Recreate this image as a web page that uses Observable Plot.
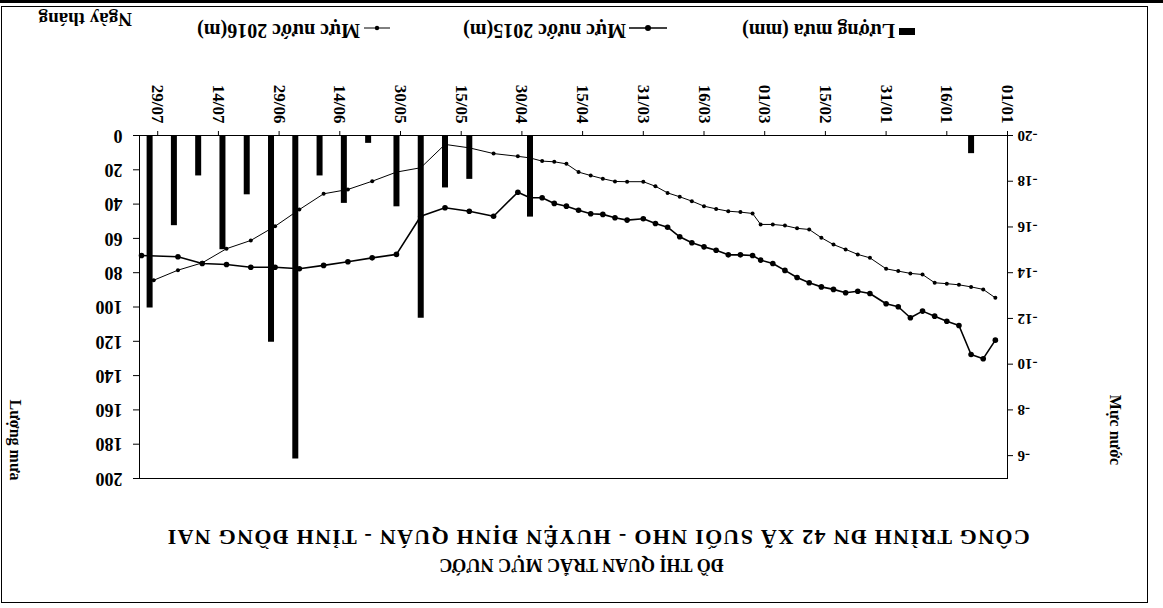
<!DOCTYPE html>
<html><head><meta charset="utf-8">
<script src="https://cdn.jsdelivr.net/npm/d3@7"></script>
<script src="https://cdn.jsdelivr.net/npm/@observablehq/plot@0.6"></script>
<style>
body{margin:0;background:#fff;}
#page{position:absolute;left:0;top:0;width:1163px;height:608px;transform:rotate(180deg);transform-origin:50% 50%;font-family:"Liberation Serif","Times New Roman",serif;font-weight:bold;color:#000;background:#fff;overflow:hidden}
.abs{position:absolute;white-space:nowrap;line-height:1}
#page svg{position:absolute;left:0;top:0}
</style></head><body><div id="page"></div>
<script>
// ---- data ----
const dateLabels = ["04/01","07/01","10/01","13/01","16/01","19/01","22/01","25/01","28/01","31/01",
  "04/02","07/02","10/02","13/02","16/02","19/02","22/02","25/02","28/02","02/03",
  "04/03","07/03","10/03","13/03","16/03","19/03","22/03","25/03","28/03","31/03",
  "04/04","07/04","10/04","13/04","16/04","19/04","22/04","25/04","28/04","01/05",
  "07/05","13/05","19/05","25/05","31/05","06/06","12/06","18/06","24/06","30/06",
  "06/07","12/07","18/07","24/07","30/07","02/08"];
const level2016 = [-12.90,-13.27,-13.38,-13.47,-13.52,-13.56,-13.92,-13.97,-14.07,-14.17,
  -14.65,-14.80,-15.02,-15.23,-15.53,-15.89,-15.94,-16.06,-16.11,-16.11,
  -16.59,-16.65,-16.69,-16.79,-16.91,-17.13,-17.32,-17.49,-17.78,-17.98,
  -17.98,-17.99,-18.11,-18.25,-18.40,-18.76,-18.85,-18.88,-19.02,-19.09,
  -19.21,-19.46,-19.61,-18.59,-18.40,-18.00,-17.64,-17.45,-16.76,-16.03,
  -15.41,-15.05,-14.43,-14.11,-13.67,null];
const level2015 = [-11.05,-10.24,-10.42,-11.69,-11.88,-12.10,-12.32,-12.03,-12.51,-12.64,
  -13.09,-13.19,-13.12,-13.27,-13.38,-13.56,-13.79,-14.10,-14.40,-14.55,
  -14.75,-14.78,-14.78,-14.98,-15.13,-15.31,-15.57,-15.99,-16.15,-16.36,
  -16.30,-16.40,-16.55,-16.58,-16.73,-16.91,-17.03,-17.28,-17.28,-17.52,
  -16.47,-16.69,-16.84,-16.47,-14.80,-14.65,-14.48,-14.32,-14.17,-14.24,
  -14.24,-14.36,-14.40,-14.70,null,-14.75];
const rainDates = ["10/01","28/04","13/05","19/05","25/05","31/05","07/06","13/06","19/06","25/06",
  "01/07","07/07","13/07","19/07","25/07","31/07"];
const rainMm = [10,47,25,30,106,41,4,39,23,188,120,34,66,23,52,100];
const xTickLabels = ["01/01","16/01","31/01","15/02","01/03","16/03","31/03","15/04","30/04","15/05","30/05","14/06","29/06","14/07","29/07"];
const levelTicks = [-20,-18,-16,-14,-12,-10,-8,-6];
const rainTicks = [0,20,40,60,80,100,120,140,160,180,200];

// ---- helpers ----
const parse = s => { const [d,m] = s.split("/").map(Number); return new Date(Date.UTC(2016,m-1,d)); };
const rows2016 = dateLabels.map((s,i)=>({date:parse(s), v:level2016[i]})).filter(d=>d.v!=null);
const rows2015 = dateLabels.map((s,i)=>({date:parse(s), v:level2015[i]})).filter(d=>d.v!=null);
const rainRows = rainDates.map((s,i)=>({date:parse(s), mm:rainMm[i]}));
const xTicks = xTickLabels.map(parse);
const fmt = d3.utcFormat("%d/%m");

const W=1163,H=608;
const margins = {marginTop:129, marginRight:140, marginBottom:136, marginLeft:155};
const xDomain = [Date.UTC(2016,0,1), Date.UTC(2016,0,1) + 214.5*864e5];
const baseStyle = {fontFamily:"Liberation Serif, Times New Roman, serif", fontWeight:"bold", fontSize:"15px", background:"transparent", color:"#000", overflow:"visible"};

const page = document.getElementById("page");

// rain bars (right axis)
const rainPlot = Plot.plot({
  width:W, height:H, ...margins, style:baseStyle,
  x:{type:"utc", domain:xDomain, axis:null},
  y:{domain:[0,200]},
  marks:[
    Plot.ruleX(rainRows,{x:"date", y1:0, y2:"mm", stroke:"#000", strokeWidth:6}),
    Plot.axisY({anchor:"right", ticks:rainTicks, tickSize:6, tickPadding:11, tickFormat:d=>String(d), label:null, fontSize:18, fontWeight:"bold"})
  ]
});
page.appendChild(rainPlot);

// water levels (left axis)
const levelPlot = Plot.plot({
  width:W, height:H, ...margins, style:baseStyle,
  x:{type:"utc", domain:xDomain},
  y:{domain:[-20,-5]},
  marks:[
    Plot.frame({stroke:"#000", strokeWidth:1}),
    Plot.line(rows2016,{x:"date", y:"v", stroke:"#000", strokeWidth:1}),
    Plot.dot(rows2016,{x:"date", y:"v", r:2, fill:"#000", stroke:"none"}),
    Plot.line(rows2015,{x:"date", y:"v", stroke:"#000", strokeWidth:1.6}),
    Plot.dot(rows2015,{x:"date", y:"v", r:2.8, fill:"#000", stroke:"none"}),
    Plot.axisY({anchor:"left", ticks:levelTicks, tickSize:5, tickPadding:5, tickFormat:d=>String(d), label:null, fontSize:15, fontWeight:"bold"}),
    Plot.axisX({anchor:"bottom", ticks:xTicks, tickFormat:fmt, tickRotate:-90, tickSize:5, tickPadding:7, label:null, fontSize:17, fontWeight:"bold"})
  ]
});
page.appendChild(levelPlot);

// ---- texts & decorations ----
function add(html, css){ const d=document.createElement("div"); d.className="abs"; d.innerHTML=html; Object.assign(d.style, css); page.appendChild(d); return d; }
// outer frame
add("",{left:"15px",top:"5px",width:"1145px",height:"595px",border:"1px solid #000"});
add("",{left:"0px",top:"605px",width:"1163px",height:"3px",background:"#000"});
// titles
add("ĐỒ THỊ QUAN TRẮC MỰC NƯỚC",{left:"0px",width:"1163px",textAlign:"center",top:"34px",fontSize:"18px"});
add("CÔNG TRÌNH ĐN 42 XÃ SUỐI NHO - HUYỆN ĐỊNH QUÁN - TỈNH ĐỒNG NAI",{left:"0px",width:"1130px",textAlign:"center",top:"60px",fontSize:"22px",letterSpacing:"1.3px"});
// axis titles
add("Mực nước",{left:"48px",top:"178px",fontSize:"16px",transform:"translate(-50%,-50%) rotate(-90deg)"});
add("Lượng mưa",{left:"1148px",top:"168px",fontSize:"16px",transform:"translate(-50%,-50%) rotate(-90deg)"});
// legend
add("",{left:"248px",top:"573px",width:"16px",height:"7px",background:"#000"});
add("Lượng mưa (mm)",{left:"268px",top:"567px",fontSize:"20px"});
add('<svg width="38" height="10" style="position:static"><line x1="0" y1="5" x2="38" y2="5" stroke="#000" stroke-width="1.5"/><circle cx="19" cy="5" r="3" fill="#000"/></svg>',{left:"496px",top:"572px"});
add("Mực nước 2015(m)",{left:"537px",top:"567px",fontSize:"20px"});
add('<svg width="26" height="10" style="position:static"><line x1="0" y1="5" x2="26" y2="5" stroke="#000" stroke-width="1"/><circle cx="13" cy="5" r="2.2" fill="#000"/></svg>',{left:"773px",top:"572px"});
add("Mực nước 2016(m)",{left:"803px",top:"567px",fontSize:"20px"});
add("Ngày tháng",{left:"1031px",top:"579px",fontSize:"19px"});
</script></body></html>
